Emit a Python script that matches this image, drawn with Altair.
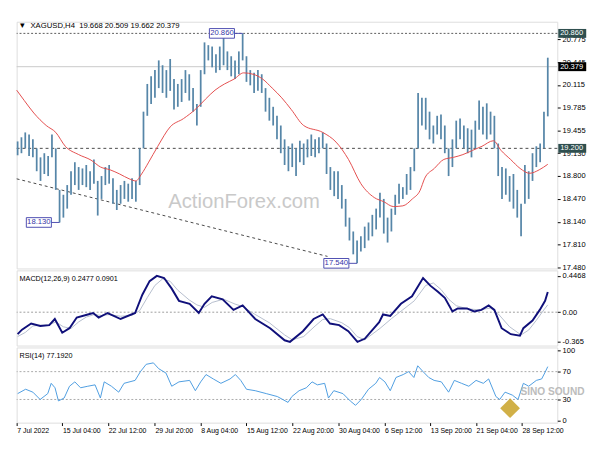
import json
import altair as alt
import pandas as pd

FONT = "Liberation Sans"
W = 561
H_MAIN, H_MACD, H_RSI = 256, 78, 78

# ---------------- price bars (4-hour, condensed) ----------------
highs = [19.30, 19.36, 19.43, 19.40, 19.33, 19.20, 19.07, 19.13, 19.09, 19.40,
         19.20, 18.60, 18.53, 18.67, 18.87, 19.00, 18.93, 18.91, 18.96, 18.87,
         19.04, 18.73, 18.80, 18.93, 18.96, 18.77, 18.60, 18.67, 18.73, 18.69,
         18.77, 18.73, 19.20, 19.73, 20.13, 20.24, 20.33, 20.47, 20.40, 20.33,
         20.49, 20.20, 20.13, 20.20, 20.33, 20.27, 20.07, 19.84, 20.33, 20.73,
         20.69, 20.67, 20.56, 20.67, 20.84, 20.60, 20.53, 20.47, 20.60, 20.86,
         20.53, 20.33, 20.29, 20.33, 20.27, 20.07, 19.93, 19.80, 19.67, 19.53,
         19.33, 19.23, 19.27, 19.20, 19.31, 19.27, 19.33, 19.40, 19.33, 19.36,
         19.43, 19.27, 18.93, 18.87, 18.87, 18.67, 18.47, 18.20, 18.00, 17.87,
         17.93, 18.07, 18.13, 18.24, 18.33, 18.56, 18.47, 18.20, 18.33, 18.53,
         18.69, 18.64, 18.83, 18.93, 19.20, 20.00, 19.93, 19.93, 19.73, 19.53,
         19.67, 19.69, 19.53, 19.20, 19.33, 19.60, 19.63, 19.53, 19.49, 19.47,
         19.60, 19.89, 19.80, 19.85, 19.73, 19.67, 19.27, 18.93, 18.91, 18.80,
         18.83, 18.60, 18.40, 18.96, 18.87, 19.13, 19.23, 19.27, 19.73, 20.509]
lows = [19.10, 19.13, 19.20, 19.09, 19.07, 18.87, 18.73, 18.83, 18.80, 19.07,
        18.60, 18.13, 18.20, 18.33, 18.53, 18.67, 18.60, 18.67, 18.64, 18.60,
        18.69, 18.23, 18.47, 18.67, 18.69, 18.40, 18.31, 18.40, 18.47, 18.43,
        18.47, 18.43, 18.67, 19.20, 19.67, 19.84, 19.93, 20.07, 20.00, 19.93,
        20.03, 19.76, 19.80, 19.87, 20.00, 19.89, 19.73, 19.53, 19.80, 20.27,
        20.47, 20.37, 20.29, 20.33, 20.40, 20.33, 20.24, 20.20, 20.27, 20.47,
        20.16, 20.11, 20.00, 20.03, 20.00, 19.73, 19.60, 19.53, 19.33, 19.13,
        18.96, 18.87, 18.93, 18.80, 19.00, 18.96, 19.07, 19.09, 19.07, 19.13,
        19.20, 18.83, 18.60, 18.51, 18.47, 18.33, 18.07, 17.87, 17.67, 17.54,
        17.71, 17.76, 17.87, 17.93, 18.03, 18.20, 17.97, 17.84, 18.00, 18.24,
        18.40, 18.47, 18.53, 18.60, 18.87, 19.20, 19.53, 19.47, 19.33, 19.27,
        19.40, 19.33, 19.13, 18.80, 18.93, 19.20, 19.33, 19.20, 19.13, 19.07,
        19.20, 19.47, 19.40, 19.33, 19.40, 19.20, 18.80, 18.47, 18.53, 18.43,
        18.33, 18.20, 17.93, 18.40, 18.47, 18.73, 18.93, 19.00, 19.20, 19.662]

# moving average (red)
ma_idx = [-0.25, 1.75, 4.25, 7.5, 10, 12.5, 16, 19.25, 21.75, 24.25, 26.75, 29.25, 31, 32.5,
          34.25, 36.75, 40, 43.5, 46.75, 49.25, 51.75, 54.25, 56.75, 59.25, 61.75, 64.25,
          66.75, 69.25, 71.75, 75, 80, 83.5, 86.75, 90, 93.5, 96, 98.5, 101, 103.5, 105.5,
          106.75, 109.25, 111.75, 114.25, 116.75, 119.25, 121.75, 124.75, 126.75, 129.25,
          131.75, 134.25, 136.75, 139]
ma_val = [20.04, 19.89, 19.71, 19.53, 19.43, 19.23, 19.11, 19.03, 18.93, 18.89, 18.83, 18.76,
          18.73, 18.83, 18.99, 19.23, 19.51, 19.63, 19.77, 19.91, 20.04, 20.13, 20.20, 20.29,
          20.27, 20.20, 20.07, 19.93, 19.76, 19.53, 19.43, 19.29, 19.04, 18.69, 18.49, 18.43,
          18.36, 18.37, 18.47, 18.59, 18.77, 18.91, 19.04, 19.07, 19.11, 19.17, 19.23, 19.31,
          19.17, 19.04, 18.91, 18.84, 18.89, 18.97]

# trend line
trend_idx = [-0.25, 81.25]
trend_val = [18.76, 17.64]

# marked highs / lows
ann_idx = [59, 11, 89]
ann_val = [20.86, 18.13, 17.54]
ann_txt = ["20.860", "18.130", "17.540"]

# right-side price tags
tag_val = [20.86, 20.379, 19.20]
tag_txt = ["20.860", "20.379", "19.200"]
tag_bg = ["#2f4f4f", "#000000", "#2f4f4f"]

price_ticks = [20.775, 20.445, 20.115, 19.785, 19.455, 19.130, 18.800, 18.470, 18.140, 17.810, 17.480]

# ---------------- MACD ----------------
macd_idx = [0, 1.15, 3.55, 5.95, 8.3, 9.75, 11.7, 13.6, 15.5, 18.4, 19.8, 21.25, 23.6, 27, 30.8,
            32.7, 34.6, 36.5, 38.4, 40.4, 42.3, 45.1, 47.5, 49, 50.9, 53.75, 56.6, 59, 62.3,
            66.2, 70, 71.4, 74.8, 77.6, 80, 81.9, 84.3, 86.7, 89.1, 91, 94.8, 95.8, 97.7,
            100.5, 103.4, 106.3, 108.2, 110.2, 112, 114, 115.4, 117.8, 119.7, 121.6, 123.5,
            125, 126.9, 129.3, 131.7, 132.6, 135, 136.9, 138.3, 139]
macd_val = [-0.271, -0.215, -0.140, -0.170, -0.159, -0.084, -0.253, -0.197, -0.066, -0.028,
            -0.010, -0.066, -0.010, -0.084, -0.010, 0.215, 0.383, 0.447, 0.421, 0.290,
            0.140, 0.103, -0.010, 0.103, 0.196, 0.159, 0.028, 0.084, -0.084, -0.197,
            -0.346, -0.365, -0.234, -0.084, -0.028, -0.140, -0.159, -0.234, -0.365, -0.328,
            -0.122, -0.028, -0.047, 0.103, 0.196, 0.421, 0.327, 0.252, 0.177, 0.009,
            0.046, 0.046, 0.009, 0.028, 0.084, 0.028, -0.197, -0.271, -0.290, -0.197,
            -0.103, 0.028, 0.140, 0.2477]
sig_idx = [0, 2, 4, 6, 8, 10, 12, 14, 16, 18, 20, 22, 24, 27, 30, 32, 34, 36, 38, 40, 42, 45,
           47, 49, 51, 54, 57, 59, 62, 66, 70, 72, 75, 78, 80, 82, 85, 87, 89, 91, 95, 98,
           101, 104, 107, 109, 111, 113, 115, 118, 121, 124, 126, 129, 132, 134, 136, 138, 139]
sig_val = [-0.30, -0.25, -0.17, -0.16, -0.16, -0.12, -0.18, -0.20, -0.12, -0.06, -0.03, -0.04,
           -0.03, -0.05, -0.04, 0.02, 0.18, 0.33, 0.41, 0.38, 0.27, 0.15, 0.09, 0.06, 0.12,
           0.16, 0.10, 0.07, -0.02, -0.13, -0.28, -0.34, -0.30, -0.17, -0.09, -0.08, -0.13,
           -0.19, -0.30, -0.34, -0.20, -0.08, 0.03, 0.14, 0.33, 0.36, 0.28, 0.16, 0.08, 0.04,
           0.03, 0.05, -0.02, -0.18, -0.28, -0.22, -0.10, 0.03, 0.0901]

# ---------------- RSI ----------------
rsi_idx = [0, 2.1, 4.0, 5.9, 7.9, 8.8, 9.8, 10.7, 12.2, 13.6, 15.0, 16.5, 18.4, 20.3, 21.7,
           22.7, 24.6, 26.5, 27.9, 30.8, 32.2, 33.7, 35.6, 37.0, 38.9, 40.4, 42.3, 45.1, 46.6,
           48.0, 49.4, 51.3, 53.3, 55.7, 57.1, 58.5, 60.0, 62.3, 65.2, 68.1, 70.9, 71.9, 73.8,
           75.7, 77.2, 78.6, 80.5, 81.5, 82.9, 85.3, 87.2, 88.6, 90.1, 92.0, 93.9, 94.9, 96.3,
           97.7, 99.2, 101.1, 102.5, 103.9, 104.9, 106.3, 107.8, 109.2, 111.1, 113.0, 114.5,
           116.4, 118.3, 120.2, 122.1, 123.5, 125.4, 126.4, 127.8, 129.7, 131.2, 132.6, 134.0,
           136.0, 137.4, 138.2, 139]
rsi_val = [38.4, 44.7, 40.5, 30, 38.4, 53.2, 46.8, 27.9, 32.1, 49, 55.3, 46.8, 49, 51, 32.1,
           55.3, 49, 40.5, 53.2, 57.4, 70, 80.5, 82.6, 74.2, 67.9, 49, 55.3, 57.4, 42.6, 55.3,
           65.8, 59.5, 53.2, 59.5, 65.8, 57.4, 44.7, 42.6, 38.4, 34.2, 25.8, 34.2, 42.6, 46.8,
           55.3, 51, 53.2, 32.1, 42.6, 38.4, 27.9, 21.6, 30, 44.7, 53.2, 61.6, 55.3, 42.6, 61.6,
           65.8, 70, 61.6, 78.4, 70, 61.6, 57.4, 55.3, 40.5, 57.4, 53.2, 49, 57.4, 53.2, 59.5,
           34.2, 30, 40.5, 36.3, 30, 53.2, 49, 57.4, 59.5, 68, 77.19]

x_tick_idx = [-0.25, 11.75, 23.75, 36, 48, 60, 72.1, 84.15, 96.2, 108.2, 120.2, 132.25]
x_labels = ["7 Jul 2022", "15 Jul 04:00", "22 Jul 12:00", "29 Jul 20:00", "8 Aug 04:00",
            "15 Aug 12:00", "22 Aug 20:00", "30 Aug 04:00", "6 Sep 12:00", "13 Sep 20:00",
            "21 Sep 04:00", "28 Sep 12:00"]

# ---------------- tables ----------------
bar_df = pd.DataFrame({"i": list(range(len(highs))), "high": highs, "low": lows})
ma_df = pd.DataFrame({"i": ma_idx, "v": ma_val})
trend_df = pd.DataFrame({"i": trend_idx, "v": trend_val})
ann_df = pd.DataFrame({"i": ann_idx, "v": ann_val, "t": ann_txt})
tag_df = pd.DataFrame({"v": tag_val, "t": tag_txt, "bg": tag_bg})
macd_df = pd.DataFrame({"i": macd_idx, "v": macd_val})
sig_df = pd.DataFrame({"i": sig_idx, "v": sig_val})
rsi_df = pd.DataFrame({"i": rsi_idx, "v": rsi_val})

xs = alt.Scale(domain=[-0.25, 141.5], nice=False, zero=False)


def right_axis(values, fmt=None, expr=None):
    kw = dict(orient="right", values=values, title=None, grid=False, domain=False,
              tickSize=3, tickColor="#000", labelFontSize=7.8, labelColor="#000",
              labelPadding=2, labelOverlap=False, labelFlush=False, labelFont=FONT)
    if fmt:
        kw["format"] = fmt
    if expr:
        kw["labelExpr"] = expr
    return alt.Axis(**kw)


def XN(field):
    return alt.X(field, type="quantitative", scale=xs, axis=None)


# ---------------- main panel ----------------
ps = alt.Scale(domain=[17.466, 21.028], nice=False, zero=False)
pax = right_axis(price_ticks, fmt=".3f")


def PY(field):
    return alt.Y(field, type="quantitative", scale=ps, axis=pax)


def one(v):
    return pd.DataFrame({"v": [v]})


hi_line = alt.Chart(one(20.86)).mark_rule(color="#555", strokeDash=[2, 2], strokeWidth=1).encode(y=PY("v"))
bid_line = alt.Chart(one(20.379)).mark_rule(color="#c8c8c8", strokeWidth=1).encode(y=PY("v"))
sup_line = alt.Chart(one(19.20)).mark_rule(color="#444", strokeDash=[3, 3], strokeWidth=1).encode(y=PY("v"))
trend = alt.Chart(trend_df).mark_line(color="#444", strokeDash=[3, 3], strokeWidth=1).encode(x=XN("i"), y=PY("v"))
wm = alt.Chart(pd.DataFrame({"t": ["ActionForex.com"]})).mark_text(
    fontSize=21, color="#c9c9c9", font=FONT).encode(text="t:N", x=alt.value(236), y=alt.value(187))
bars = alt.Chart(bar_df).mark_rule(color="#5686a8", strokeWidth=1.8).encode(
    x=XN("i"), y=PY("low"), y2="high")
ma = alt.Chart(ma_df).mark_line(color="#e34a4a", strokeWidth=1, interpolate="monotone").encode(
    x=XN("i"), y=PY("v"))

BOX = "M-3.45,-0.5 L-0.85,-0.5 L-0.85,0.5 L-3.45,0.5 Z M-0.85,0 L0,0"
ann_box = alt.Chart(ann_df).mark_point(shape=BOX, size=400, fill="white", stroke="#4b4bb0",
                                       strokeWidth=1, opacity=1).encode(x=XN("i"), y=PY("v"))
ann_text = alt.Chart(ann_df).mark_text(dx=-21.5, fontSize=8, color="#3636a8", font=FONT).encode(
    x=XN("i"), y=PY("v"), text="t:N")

TAG = "M0,-0.46 L2.9,-0.46 L2.9,0.46 L0,0.46 Z"
tag_box = alt.Chart(tag_df).mark_point(shape=TAG, size=400, filled=True, opacity=1, strokeWidth=0).encode(
    x=alt.value(W + 1), y=PY("v"), fill=alt.Fill("bg:N", scale=None))
tag_text = alt.Chart(tag_df).mark_text(color="white", fontSize=7.8, align="left", font=FONT).encode(
    x=alt.value(W + 3), y=PY("v"), text="t:N")

header = alt.Chart(pd.DataFrame({"t": ["\u25bc\u00a0\u00a0XAGUSD,H4\u00a0\u00a019.668 20.509 19.662 20.379"]})).mark_text(
    fontSize=8, color="#000", align="left", font=FONT).encode(text="t:N", x=alt.value(2), y=alt.value(5))

main = alt.layer(hi_line, bid_line, sup_line, trend, wm, bars, ma, ann_box, ann_text,
                 tag_box, tag_text, header).properties(width=W, height=H_MAIN)

# ---------------- MACD panel ----------------
ms = alt.Scale(domain=[-0.411, 0.515], nice=False, zero=False)
max_ = right_axis([0.4468, 0, -0.365],
                  expr="datum.value > 0.1 ? '0.4468' : (datum.value < -0.1 ? '-0.365' : '0.00')")


def MY(field):
    return alt.Y(field, type="quantitative", scale=ms, axis=max_)


m_zero = alt.Chart(one(0)).mark_rule(color="#9a9a9a", strokeDash=[2, 2], strokeWidth=1).encode(y=MY("v"))
m_sig = alt.Chart(sig_df).mark_line(color="#b4bccc", strokeWidth=1).encode(x=XN("i"), y=MY("v"))
m_line = alt.Chart(macd_df).mark_line(color="#10107a", strokeWidth=2).encode(x=XN("i"), y=MY("v"))
m_head = alt.Chart(pd.DataFrame({"t": ["MACD(12,26,9) 0.2477 0.0901"]})).mark_text(
    fontSize=7.5, color="#000", align="left", font=FONT).encode(text="t:N", x=alt.value(3), y=alt.value(9))
macd = alt.layer(m_zero, m_sig, m_line, m_head).properties(width=W, height=H_MACD)

# ---------------- RSI panel ----------------
rs = alt.Scale(domain=[-3.3, 104.7], nice=False, zero=False)
rax = right_axis([100, 70, 30, 0], fmt="d")
x_axis = alt.Axis(orient="bottom", values=x_tick_idx,
                  labelExpr=json.dumps(x_labels) + "[round(datum.value/12)]",
                  labelAlign="left", tickSize=3, tickColor="#000", labelFontSize=7.2,
                  labelColor="#000", labelPadding=1, domain=False, grid=False, labelFlush=False,
                  labelOverlap=False, title=None, labelFont=FONT)


def RX(field):
    return alt.X(field, type="quantitative", scale=xs, axis=x_axis)


def RY(field):
    return alt.Y(field, type="quantitative", scale=rs, axis=rax)


r_lv = alt.Chart(pd.DataFrame({"v": [70, 30]})).mark_rule(color="#a8a8a8", strokeDash=[2, 2], strokeWidth=1).encode(y=RY("v"))
r_line = alt.Chart(rsi_df).mark_line(color="#4a9be0", strokeWidth=1).encode(x=RX("i"), y=RY("v"))
r_head = alt.Chart(pd.DataFrame({"t": ["RSI(14) 77.1920"]})).mark_text(
    fontSize=7.5, color="#000", align="left", font=FONT).encode(text="t:N", x=alt.value(3), y=alt.value(9))
logo = alt.Chart(pd.DataFrame({"t": ["SINO SOUND"]})).mark_text(
    fontSize=10.5, fontWeight="bold", color="#b5b5b5", font=FONT, opacity=0.9).encode(
    text="t:N", x=alt.value(556), y=alt.value(46))
logo_d = alt.Chart(pd.DataFrame({"t": ["d"]})).mark_point(
    shape="diamond", size=420, filled=True, color="#c9a227", opacity=0.85).encode(
    x=alt.value(512), y=alt.value(63))
rsi = alt.layer(r_lv, r_line, r_head, logo_d, logo).properties(width=W, height=H_RSI)

chart = alt.vconcat(main, macd, rsi, spacing=2, bounds="flush").configure_view(
    stroke="#555", strokeWidth=1).configure(background="white")

chart.save("out.html", embed_options={"renderer": "svg", "actions": False})
